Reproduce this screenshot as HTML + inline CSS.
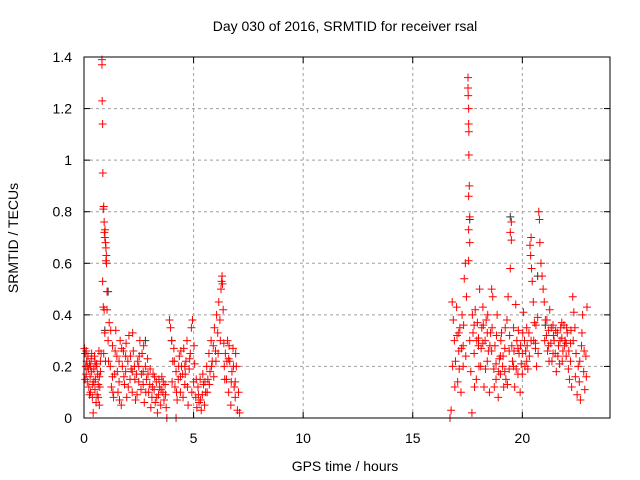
<!DOCTYPE html>
<html><head><meta charset="utf-8"><style>
body{margin:0;background:#fff}
svg{display:block;font-family:"Liberation Sans",sans-serif;font-size:14px}
</style></head><body>
<svg id="chart" width="640" height="480">
<text x="345" y="31" text-anchor="middle">Day 030 of 2016, SRMTID for receiver rsal</text>
<text x="345" y="471" text-anchor="middle">GPS time / hours</text>
<text transform="translate(18,238) rotate(-90)" text-anchor="middle">SRMTID / TECUs</text>
<g id="grid"></g><g id="ticks"></g><g id="marks"></g>
<rect x="84" y="57" width="526" height="361" fill="none" stroke="#000" stroke-width="1"/>
</svg>
<script>
const xTicks=[0,5,10,15,20];
const yTicks=[0,0.2,0.4,0.6,0.8,1,1.2,1.4];
const yTickLabels=["0","0.2","0.4","0.6","0.8","1","1.2","1.4"];
const morningObs=[[0.02,0.27],[0.05,0.25],[0.08,0.2],[0.1,0.17],[0.12,0.22],[0.15,0.14],[0.18,0.24],[0.2,0.19],[0.22,0.12],[0.25,0.21],[0.28,0.16],[0.3,0.1],[0.33,0.23],[0.35,0.18],[0.38,0.08],[0.4,0.13],[0.42,0.02],[0.45,0.19],[0.48,0.24],[0.5,0.11],[0.52,0.15],[0.55,0.06],[0.58,0.21],[0.6,0.09],[0.62,0.17],[0.65,0.13],[0.68,0.26],[0.7,0.05],[0.72,0.12],[0.75,0.18],[0.78,0.25],[0.1,0.26],[0.3,0.2],[0.5,0.22],[0.7,0.16],
[0.82,1.37],[0.82,1.39],[0.83,1.23],[0.85,1.14],[0.86,0.95],[0.88,0.81],[0.9,0.82],[0.92,0.76],[0.93,0.72],[0.95,0.7],[0.96,0.73],[0.98,0.68],[1.0,0.66],[1.02,0.63],[1.03,0.6],[1.0,0.61],[0.85,0.53],[0.88,0.43],[0.92,0.42],[0.95,0.33],[1.05,0.49],[1.05,0.42],[0.9,0.25],[0.98,0.22],
[1.1,0.3],[1.15,0.37],[1.2,0.2],[1.25,0.12],[1.3,0.28],[1.35,0.08],[1.4,0.17],[1.45,0.34],[1.5,0.24],[1.55,0.1],[1.6,0.14],[1.65,0.3],[1.7,0.05],[1.75,0.2],[1.8,0.26],[1.85,0.13],[1.9,0.18],[1.95,0.08],[2.0,0.22],[2.05,0.32],[2.1,0.15],[2.15,0.19],[2.2,0.1],[2.25,0.26],[2.3,0.2],[2.35,0.07],[2.4,0.17],[2.45,0.22],[2.5,0.14],[2.55,0.3],[2.6,0.11],[2.65,0.25],[2.7,0.18],[2.75,0.06],[2.8,0.2],[2.85,0.15],[2.9,0.23],[1.3,0.16],[1.6,0.22],[1.9,0.24],[2.2,0.18],[2.5,0.2],[2.7,0.13],
[2.95,0.1],[3.0,0.13],[3.05,0.04],[3.1,0.08],[3.15,0.17],[3.2,0.11],[3.25,0.06],[3.3,0.14],[3.35,0.02],[3.4,0.09],[3.45,0.12],[3.5,0.05],[3.55,0.16],[3.6,0.1],[3.65,0.07],[3.7,0.13],[3.75,0.04],[3.78,0.0],[4.2,0.0],
[3.9,0.38],[3.95,0.35],[4.0,0.3],[4.05,0.22],[4.1,0.27],[4.15,0.12],[4.2,0.18],[4.25,0.07],[4.3,0.15],[4.35,0.24],[4.4,0.1],[4.45,0.2],[4.5,0.17],[4.55,0.27],[4.6,0.13],[4.65,0.22],[4.7,0.3],[4.75,0.05],[4.8,0.19],[4.85,0.25],[4.9,0.35],[4.95,0.38],[5.0,0.14],[5.05,0.21],[4.4,0.16],[4.6,0.2],
[5.1,0.08],[5.15,0.04],[5.2,0.12],[5.25,0.06],[5.3,0.15],[5.35,0.03],[5.4,0.09],[5.45,0.13],[5.5,0.05],[5.55,0.1],
[5.6,0.2],[5.65,0.15],[5.7,0.25],[5.75,0.18],[5.8,0.3],[5.85,0.22],[5.9,0.28],[5.95,0.35],[6.0,0.26],[6.05,0.4],[6.1,0.33],[6.15,0.45],[6.2,0.38],[6.25,0.5],[6.28,0.53],[6.3,0.55],[6.32,0.52],[6.35,0.42],[6.38,0.29],[6.4,0.2],
[6.45,0.25],[6.5,0.15],[6.55,0.3],[6.6,0.1],[6.65,0.22],[6.7,0.05],[6.75,0.18],[6.8,0.27],[6.85,0.12],[6.9,0.08],[6.95,0.2],[7.0,0.03],[7.05,0.1],[7.1,0.02],[6.6,0.23],[6.9,0.14]];
const morningExtra=[[0.05,0.15],[0.15,0.2],[0.25,0.09],[0.35,0.25],[0.45,0.14],[0.55,0.2],[0.65,0.08],[0.75,0.22],[1.12,0.22],[1.22,0.34],[1.32,0.1],[1.42,0.26],[1.52,0.18],[1.62,0.07],[1.72,0.27],[1.82,0.16],[1.92,0.29],[2.02,0.12],[2.12,0.24],[2.22,0.33],[2.32,0.15],[2.42,0.09],[2.52,0.24],[2.62,0.17],[2.72,0.28],[2.82,0.1],[2.92,0.17],[3.02,0.19],[3.12,0.12],[3.22,0.16],[3.32,0.08],[3.42,0.15],[3.52,0.11],[3.62,0.14],[3.72,0.09],[4.02,0.14],[4.12,0.22],[4.22,0.1],[4.32,0.2],[4.42,0.26],[4.52,0.08],[4.62,0.17],[4.72,0.12],[4.82,0.23],[4.92,0.1],[5.02,0.28],[5.12,0.15],[5.22,0.09],[5.32,0.07],[5.42,0.17],[5.52,0.14],[5.62,0.1],[5.72,0.13],[5.82,0.2],[5.92,0.16],[6.02,0.22],[6.12,0.25],[6.22,0.3],[6.42,0.15],[6.52,0.22],[6.62,0.28],[6.72,0.14],[6.82,0.2],[6.92,0.25]];
const eveningObs=[[16.7,0.0],[16.75,0.03],[16.8,0.45],[16.85,0.38],[16.9,0.3],[16.95,0.22],[17.0,0.43],[17.05,0.14],[17.1,0.26],[17.15,0.35],[17.2,0.1],[17.25,0.4],[17.3,0.2],[17.35,0.54],[17.4,0.6],[17.45,0.47],
[17.52,1.32],[17.52,1.28],[17.53,1.25],[17.55,1.2],[17.55,1.14],[17.56,1.11],[17.56,1.02],[17.58,0.9],[17.55,0.86],[17.6,0.78],[17.55,0.73],[17.6,0.68],[17.55,0.61],
[17.6,0.3],[17.65,0.18],[17.7,0.02],[17.75,0.33],[17.8,0.25],[17.85,0.42],[17.9,0.15],[17.95,0.37],[18.0,0.28],[18.05,0.5],[18.1,0.2],[18.15,0.35],[18.2,0.43],[18.25,0.12],[18.3,0.3],[18.35,0.38],[18.4,0.22],[18.45,0.26],[18.5,0.1],[18.55,0.33],[18.6,0.5],[18.65,0.47],[18.7,0.19],[18.75,0.28],[18.8,0.15],[18.85,0.4],[18.9,0.08],[18.95,0.23],[19.0,0.17],
[19.05,0.33],[19.1,0.2],[19.15,0.12],[19.2,0.27],[19.25,0.15],[19.3,0.38],[19.35,0.47],[19.4,0.19],[19.45,0.58],[19.45,0.72],[19.5,0.76],[19.5,0.69],[19.55,0.22],[19.6,0.35],[19.65,0.12],[19.7,0.44],[19.75,0.3],[19.8,0.17],[19.85,0.25],[19.9,0.1],[19.95,0.21],[20.0,0.17],
[20.05,0.41],[20.1,0.3],[20.15,0.26],[20.2,0.35],[20.25,0.19],[20.3,0.33],[20.35,0.67],[20.38,0.63],[20.4,0.7],[20.42,0.58],[20.45,0.53],[20.5,0.45],[20.55,0.37],[20.6,0.29],[20.65,0.2],[20.7,0.39],[20.75,0.8],[20.78,0.77],[20.8,0.68],[20.85,0.6],[20.9,0.55],[20.95,0.5],[21.0,0.45],[21.05,0.38],[21.1,0.32],[21.15,0.26],[21.2,0.34],[21.25,0.42],[21.3,0.29],[21.35,0.22],[21.4,0.36],[21.45,0.3],[21.5,0.25],[21.55,0.18],[21.6,0.33],[21.65,0.28],[21.7,0.21],[21.75,0.35],[21.8,0.31],[21.85,0.26],[21.9,0.36],[21.95,0.3],[22.0,0.24],[22.05,0.33],[22.1,0.19],[22.15,0.15],[22.2,0.29],[22.25,0.12],[22.3,0.47],[22.35,0.41],[22.4,0.35],[22.45,0.25],[22.5,0.09],[22.55,0.2],[22.6,0.14],[22.65,0.07],[22.7,0.28],[22.75,0.4],[22.8,0.18],[22.85,0.11],[22.9,0.24],[22.95,0.43],
[17.1,0.33],[17.3,0.28],[17.8,0.36],[18.0,0.31],[18.2,0.29],[18.4,0.33],[18.6,0.26],[18.8,0.21],[19.0,0.24],[19.2,0.18],[19.4,0.26],[19.6,0.2],[19.8,0.27],[20.0,0.25],[20.2,0.22],[20.4,0.3],[20.6,0.27],[21.2,0.28],[21.4,0.25],[21.8,0.37],[22.0,0.29],[22.2,0.22]];
const eveningExtra=[[16.82,0.2],[16.92,0.12],[17.02,0.32],[17.12,0.19],[17.22,0.27],[17.32,0.36],[17.42,0.24],[17.72,0.4],[17.82,0.12],[17.92,0.3],[18.02,0.2],[18.12,0.27],[18.22,0.36],[18.32,0.19],[18.42,0.4],[18.52,0.28],[18.62,0.35],[18.72,0.12],[18.82,0.32],[18.92,0.18],[19.02,0.3],[19.12,0.24],[19.22,0.35],[19.32,0.13],[19.42,0.32],[19.52,0.28],[19.62,0.26],[19.72,0.19],[19.82,0.34],[19.92,0.28],[20.02,0.33],[20.12,0.2],[20.22,0.28],[20.32,0.24],[20.52,0.3],[20.62,0.36],[20.72,0.25],[21.02,0.3],[21.12,0.38],[21.22,0.22],[21.32,0.35],[21.42,0.32],[21.52,0.34],[21.62,0.24],[21.72,0.3],[21.82,0.22],[21.92,0.28],[22.02,0.35],[22.12,0.26],[22.22,0.34],[22.32,0.3],[22.42,0.16],[22.62,0.22],[22.72,0.33],[22.82,0.26],[22.92,0.16]];
const blackObs=[[0.95,0.34],[1.1,0.49],[4.0,0.3],[19.45,0.78],[17.6,0.77],[2.8,0.3],[21.05,0.36],[20.7,0.55]];

const X0=84,X1=610,Y0=418,Y1=57,XMAX=24,YMAX=1.4;
const sx=v=>X0+(X1-X0)*v/XMAX;
const sy=v=>Y0-(Y0-Y1)*v/YMAX;
const NS="http://www.w3.org/2000/svg";
function mk(tag,attrs,parent){const e=document.createElementNS(NS,tag);for(const k in attrs)e.setAttribute(k,attrs[k]);parent.appendChild(e);return e;}
const grid=document.getElementById('grid'),ticks=document.getElementById('ticks'),marks=document.getElementById('marks');
xTicks.forEach(t=>{
  const x=sx(t);
  if(t>0){const g=mk('line',{x1:x,x2:x,y1:Y0,y2:Y1,stroke:'#a0a0a0','stroke-dasharray':'3,3'},grid);
  
  }
  mk('line',{x1:x,x2:x,y1:Y0,y2:Y0-6,stroke:'#000'},ticks);
  mk('line',{x1:x,x2:x,y1:Y1,y2:Y1+6,stroke:'#000'},ticks);
  const l=mk('text',{x:x,y:443,'text-anchor':'middle'},ticks);l.textContent=t;
  
  
});
yTicks.forEach((t,i)=>{
  const y=sy(t);
  if(t>0&&t<1.4){const g=mk('line',{x1:X0,x2:X1,y1:y,y2:y,stroke:'#a0a0a0','stroke-dasharray':'3,3'},grid);
  
  }
  mk('line',{x1:X0,x2:X0+6,y1:y,y2:y,stroke:'#000'},ticks);
  mk('line',{x1:X1,x2:X1-6,y1:y,y2:y,stroke:'#000'},ticks);
  const l=mk('text',{x:72,y:y+5,'text-anchor':'end'},ticks);l.textContent=yTickLabels[i];
  
  
});
function plus(d,color){
  const x=sx(d[0]),y=sy(d[1]);
  const p=mk('path',{d:`M${x-4},${y}h8M${x},${y-4}v8`,stroke:color,'stroke-width':1,fill:'none'},marks);
  
  
}
blackObs.forEach(d=>plus(d,'#333'));
morningObs.forEach(d=>plus(d,'#ff0000'));
morningExtra.forEach(d=>plus(d,'#ff0000'));
eveningObs.forEach(d=>plus(d,'#ff0000'));
eveningExtra.forEach(d=>plus(d,'#ff0000'));
</script>
</body></html>
